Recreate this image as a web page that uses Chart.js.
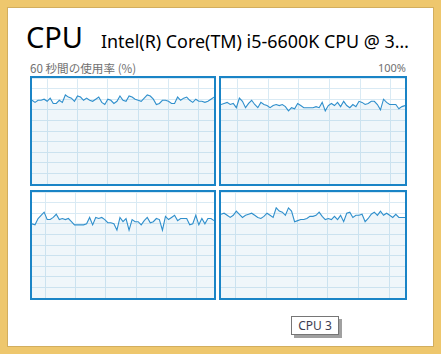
<!DOCTYPE html>
<html>
<head>
<meta charset="utf-8">
<script src="https://cdn.jsdelivr.net/npm/chart.js@4/dist/chart.umd.min.js"></script>
<style>
  html, body { margin:0; padding:0; background:#fff; }
  #frame { position:absolute; left:0; top:0; width:441px; height:354px; box-sizing:border-box;
           border:7px solid #EEC76D; background:#fff; }
  #inner { position:absolute; left:7px; top:7px; width:427px; height:340px; box-sizing:border-box;
           border:1px solid #D2AE5E; }
  .txt { position:absolute; white-space:nowrap; font-family:"Noto Sans","Noto Sans CJK JP",sans-serif; }
  #title { left:26px; top:17px; font-size:29px; color:#000; line-height:40px; }
  #model { left:101px; top:29px; font-size:17.9px; color:#000; line-height:24px; }
  #sub { left:30px; top:60px; font-size:11.6px; color:#707070; line-height:16px; font-family:"Noto Sans CJK JP","Noto Sans",sans-serif; }
  #pct { right:35px; top:60px; font-size:11px; color:#707070; line-height:16px; }
  .panel { position:absolute; box-sizing:border-box; border:2px solid #1A84C6; background:#fff; }
  .panel canvas { display:block; }
  #tip { position:absolute; left:291px; top:316px; width:48px; height:19px; box-sizing:border-box;
         border:1px solid #767676; background:#fff; box-shadow:3px 3px 0 #A0A0A0;
         font-family:"Noto Sans",sans-serif; font-size:12px; color:#3C3C50; line-height:17px; text-align:center; }
</style>
</head>
<body>
<div id="frame"></div>
<div id="inner"></div>
<div class="txt" id="title">CPU</div>
<div class="txt" id="model">Intel(R) Core(TM) i5-6600K CPU @ 3…</div>
<div class="txt" id="sub">60 秒間の使用率 (%)</div>
<div class="txt" id="pct">100%</div>
<div class="panel" style="left:30px;top:76px;width:186px;height:110px"><canvas id="c0"></canvas></div>
<div class="panel" style="left:219px;top:76px;width:188px;height:110px"><canvas id="c1"></canvas></div>
<div class="panel" style="left:30px;top:190px;width:186px;height:110px"><canvas id="c2"></canvas></div>
<div class="panel" style="left:219px;top:190px;width:188px;height:110px"><canvas id="c3"></canvas></div>
<div id="tip">CPU 3</div>
<script>
// seconds axis (0 = 60 s ago, 60 = now)
const seconds = Array.from({length:61}, (_, i) => i);

// CPU usage (%) per logical processor, one sample per second
const cpu0 = [79,77,79,79,80,78,81,76,76,79,77,84,82,81,78,83,82,79,81,79,78,80,82,77,75,80,79,76,78,83,79,78,83,82,80,79,78,81,84,83,80,75,76,79,79,78,76,76,82,79,81,82,79,77,80,78,78,77,78,80,82];
const cpu1 = [75,76,77,75,76,72,81,78,72,76,79,75,72,77,75,74,72,74,75,74,75,73,69,72,71,76,74,72,72,72,72,73,72,77,69,74,76,74,77,73,78,74,72,75,73,78,77,75,76,78,78,75,70,80,77,75,75,75,71,73,74];
const cpu2 = [70,69,75,78,81,74,74,76,79,74,75,74,75,72,69,69,69,69,70,76,69,76,75,76,74,71,71,70,64,76,72,75,64,74,72,72,69,73,76,71,72,75,74,64,77,74,76,78,73,75,75,75,69,70,78,69,75,70,75,75,73];
const cpu3 = [79,80,78,76,78,82,79,76,78,79,80,78,76,75,77,80,78,76,85,82,81,78,85,82,72,73,74,74,75,77,77,78,81,77,74,75,74,77,74,78,72,80,81,76,78,78,79,72,75,79,81,78,82,78,80,78,76,79,76,76,76];

// y-axis ticks (%), vertical grid offsets (s) of the scrolling grid
const yTicks = [0,10,20,30,40,50,60,70,80,90,100];
const gridOffsets = [5, 5.4, 4.3, 4.8];

const series = [cpu0, cpu1, cpu2, cpu3];

series.forEach((vals, idx) => {
  const canvas = document.getElementById('c' + idx);
  const box = canvas.parentElement;
  canvas.width = box.clientWidth; canvas.height = box.clientHeight;
  canvas.style.width = box.clientWidth + 'px'; canvas.style.height = box.clientHeight + 'px';
  new Chart(canvas, {
    type: 'line',
    data: {
      datasets: [{
        data: seconds.map((s, i) => ({x: s, y: vals[i]})),
        borderColor: '#2F8FCC',
        backgroundColor: 'rgba(17,125,187,0.065)',
        borderWidth: 1.1,
        fill: 'origin',
        pointRadius: 0,
        tension: 0
      }]
    },
    options: {
      responsive: false,
      animation: false,
      devicePixelRatio: 1,
      layout: { padding: 0 },
      plugins: { legend: { display: false }, tooltip: { enabled: false } },
      scales: {
        x: {
          type: 'linear', min: 0, max: 60,
          afterBuildTicks: (ax) => {
            const t = [];
            for (let v = gridOffsets[idx]; v < 60; v += 10) t.push({value: v});
            ax.ticks = t;
          },
          ticks: { display: false },
          grid: { color: '#D9EAF4', lineWidth: 1, drawTicks: false },
          border: { display: false }
        },
        y: {
          min: 0, max: 100,
          afterBuildTicks: (ax) => { ax.ticks = yTicks.map(v => ({value: v})); },
          ticks: { display: false },
          grid: { color: '#D9EAF4', lineWidth: 1, drawTicks: false },
          border: { display: false }
        }
      }
    }
  });
});
</script>
</body>
</html>
